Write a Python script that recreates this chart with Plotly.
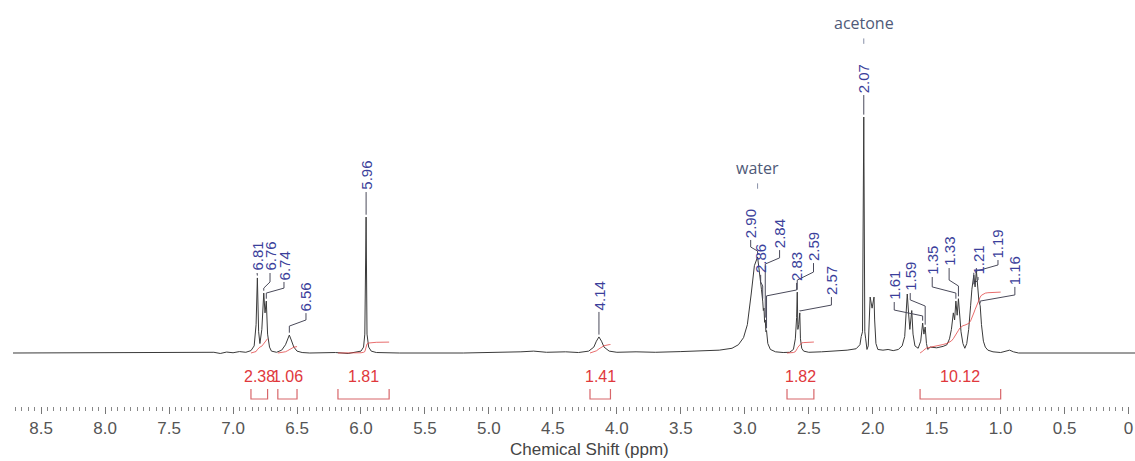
import numpy as np
import plotly.graph_objects as go

# ---------------------------------------------------------------- data
# 1H NMR trace: chemical shift (ppm) and intensity (acetone singlet = 100)
shift_ppm = [
    8.72, 7.30, 7.15, 7.10, 7.05, 7.00, 6.95, 6.90, 6.86, 6.835, 6.82, 6.81, 6.80, 6.79,
    6.775, 6.76, 6.75, 6.74, 6.73, 6.715, 6.70, 6.66, 6.62, 6.59, 6.575, 6.56, 6.545,
    6.525, 6.50, 6.46, 6.40, 6.20, 6.10, 6.03, 6.00, 5.98, 5.97, 5.96, 5.953, 5.94, 5.92,
    5.88, 5.70, 5.20, 4.90, 4.75, 4.65, 4.55, 4.40, 4.30, 4.22, 4.18, 4.16, 4.14, 4.12,
    4.10, 4.06, 4.00, 3.85, 3.70, 3.50, 3.35, 3.20, 3.10, 3.05, 3.01, 2.98, 2.95, 2.925,
    2.90, 2.88, 2.87, 2.86, 2.855, 2.85, 2.845, 2.84, 2.835, 2.83, 2.82, 2.80, 2.76, 2.70,
    2.65, 2.62, 2.605, 2.595, 2.59, 2.585, 2.578, 2.57, 2.565, 2.555, 2.54, 2.50, 2.40,
    2.30, 2.20, 2.13, 2.10, 2.09, 2.08, 2.07, 2.062, 2.055, 2.045, 2.035, 2.025, 2.02,
    2.005, 1.99, 1.985, 1.975, 1.96, 1.92, 1.88, 1.84, 1.80, 1.77, 1.75, 1.74, 1.73, 1.72,
    1.71, 1.695, 1.685, 1.67, 1.645, 1.625, 1.61, 1.60, 1.59, 1.58, 1.57, 1.55, 1.50,
    1.45, 1.42, 1.40, 1.385, 1.37, 1.36, 1.35, 1.34, 1.33, 1.32, 1.31, 1.295, 1.28, 1.265,
    1.25, 1.235, 1.225, 1.21, 1.20, 1.19, 1.18, 1.17, 1.16, 1.15, 1.135, 1.12, 1.10, 1.06,
    1.00, 0.96, 0.93, 0.90, 0.86, -0.06,
]
intensity = [
    0.0, 0.0, 0.3, -0.2, 0.4, 0.1, 0.6, 0.3, 1.0, 3.0, 12.0, 31.8, 9.0, 4.0,
    10.0, 25.4, 17.0, 22.0, 8.0, 2.5, 0.8, 0.3, 1.2, 3.5, 6.0, 7.6, 5.5,
    2.5, 0.8, 0.2, 0.0, 0.2, -0.2, 0.3, 0.8, 2.5, 8.0, 57.6, 8.0, 2.5, 0.8,
    0.2, 0.0, 0.0, 0.2, 0.5, 0.8, 0.3, 0.5, 0.2, 0.8, 2.5, 5.0, 6.8, 5.0,
    2.5, 0.8, 0.3, 0.5, 0.3, 0.6, 0.8, 1.2, 2.0, 3.5, 6.5, 12.0, 25.0, 37.0,
    40.7, 33.0, 27.0, 22.0, 18.0, 19.0, 13.0, 14.0, 9.0, 9.5, 4.0, 1.5, 0.5, 0.2,
    0.3, 1.5, 6.0, 15.0, 25.8, 10.0, 12.0, 17.0, 6.0, 2.0, 0.8, 0.3, 0.5,
    0.8, 1.2, 1.8, 3.5, 7.0, 9.0, 100.0, 9.0, 6.0, 1.5, 3.0, 14.0, 23.7,
    19.0, 23.7, 14.0, 4.0, 1.5, 1.2, 1.5, 1.0, 1.5, 3.0, 7.0, 15.0, 25.0, 17.0,
    10.0, 18.0, 8.0, 3.0, 2.0, 5.0, 12.7, 8.0, 11.0, 4.0, 1.5, 2.5, 2.2,
    2.8, 3.5, 6.0, 10.0, 17.0, 14.0, 22.0, 16.0, 23.0, 15.0, 9.0, 4.0, 2.0, 4.0,
    10.0, 20.0, 27.0, 33.0, 28.0, 35.0, 27.0, 22.0, 20.0, 12.0, 5.0, 2.5, 1.2, 0.5,
    0.2, 0.6, 1.2, 0.5, 0.0, 0.0,
]

# picked peaks (ppm)
peak_ppm = [6.81, 6.76, 6.74, 6.56, 5.96, 4.14, 2.90, 2.86, 2.84, 2.83,
            2.59, 2.57, 2.07, 1.61, 1.59, 1.35, 1.33, 1.21, 1.19, 1.16]

# integration regions (ppm limits) and integral values
int_from = [6.86, 6.65, 6.18, 4.21, 2.67, 1.63]
int_to = [6.73, 6.50, 5.78, 4.05, 2.46, 1.00]
int_value = [2.38, 1.06, 1.81, 1.41, 1.82, 10.12]

# solvent assignments
solvent_name = ["water", "acetone"]
solvent_ppm = [2.90, 2.07]

x_ticks = [8.5, 8.0, 7.5, 7.0, 6.5, 6.0, 5.5, 5.0, 4.5, 4.0, 3.5, 3.0, 2.5, 2.0, 1.5, 1.0, 0.5, 0.0]
x_tick_text = ["8.5", "8.0", "7.5", "7.0", "6.5", "6.0", "5.5", "5.0", "4.5", "4.0",
               "3.5", "3.0", "2.5", "2.0", "1.5", "1.0", "0.5", "0"]

# ---------------------------------------------------------------- layout of the peak labels
# text position (ppm), text foot height, upper and lower elbow of the leader (None = straight)
label_x = [6.812, 6.711, 6.602, 6.430, 5.96, 4.14, 2.954, 2.876, 2.728, 2.595,
           2.463, 2.323, 2.07, 1.832, 1.707, 1.535, 1.403, 1.177, 1.021, 0.889]
label_foot = [33.9, 33.9, 30.1, 16.9, 68.2, 17.4, 47.9, 33.1, 43.6, 29.7,
              38.1, 23.7, 109.3, 21.6, 25.4, 32.2, 36.0, 32.2, 39.4, 28.0]
elbow_hi = [None, 30.1, 27.5, 14.0, None, None, 44.9, 30.1, 40.3, 26.7,
            34.3, 20.3, None, 18.2, 22.5, 28.0, 30.9, 30.9, 37.3, 24.6]
elbow_lo = [None, 27.5, 25.4, 11.4, None, None, 43.2, 28.4, 37.7, 24.2,
            30.9, 17.8, None, 15.7, 19.9, 25.4, 28.4, 29.2, 34.7, 22.0]

BLUE = "#3b3f9b"
RED = "#e0383c"
GREY_TXT = "#4f5a78"
LINE = "#3a3a3a"
INT_SCALE = 2.55          # intensity units per integral unit
BRACKET_TOP, BRACKET_BOT, INT_LABEL_Y = -15.3, -19.5, -10.0

fig = go.Figure()

# spectrum
fig.add_trace(go.Scatter(x=shift_ppm, y=intensity, mode="lines",
                         line=dict(color=LINE, width=1), hoverinfo="skip"))

xs = np.array(shift_ppm)[::-1]
ys = np.array(intensity)[::-1]


def trace_height(p):
    return float(np.interp(p, xs, ys))


# integral curves: cumulative area of the trace over each region
for a, b, v in zip(int_from, int_to, int_value):
    inside = [(p, i) for p, i in zip(shift_ppm, intensity) if b < p < a]
    pts = [(a, trace_height(a))] + inside + [(b, trace_height(b))]
    px = np.array([p for p, _ in pts])
    py = np.array([i for _, i in pts])
    area = np.concatenate([[0.0], np.cumsum(np.abs(np.diff(px)) * (py[1:] + py[:-1]) / 2)])
    curve = v * INT_SCALE * area / area[-1]
    fig.add_trace(go.Scatter(x=px, y=curve, mode="lines",
                             line=dict(color="rgba(224,60,60,0.75)", width=1),
                             hoverinfo="skip"))

# integration brackets and values
bx, by = [], []
for a, b, v in zip(int_from, int_to, int_value):
    bx += [a, a, b, b, None]
    by += [BRACKET_TOP, BRACKET_BOT, BRACKET_BOT, BRACKET_TOP, None]
    fig.add_annotation(x=(a + b) / 2, y=INT_LABEL_Y, text=f"{v:.2f}", showarrow=False,
                       xanchor="center", yanchor="middle",
                       font=dict(family="Liberation Sans, Arial", size=16, color=RED))
fig.add_trace(go.Scatter(x=bx, y=by, mode="lines",
                         line=dict(color="#d8666a", width=1.2), hoverinfo="skip"))

# peak labels with leaders
lx, ly = [], []
for p, tx, foot, e1, e2 in zip(peak_ppm, label_x, label_foot, elbow_hi, elbow_lo):
    end = trace_height(p) + 1.0
    if e1 is None:
        lx += [tx, p, None]
        ly += [foot, end, None]
    else:
        lx += [tx, tx, p, p, None]
        ly += [foot, e1, e2, end, None]
    fig.add_annotation(x=tx, y=foot, text=f"{p:.2f}", textangle=-90, showarrow=False,
                       xanchor="center", yanchor="bottom",
                       font=dict(family="Liberation Sans, Arial", size=15, color=BLUE))
fig.add_trace(go.Scatter(x=lx, y=ly, mode="lines",
                         line=dict(color="#4a4a5a", width=1), hoverinfo="skip"))

# solvent tags
solvent_tag_y = [78.4, 139.8]
sx, sy = [], []
for name, p, ty in zip(solvent_name, solvent_ppm, solvent_tag_y):
    fig.add_annotation(x=p, y=ty, text=name, showarrow=False, xanchor="center",
                       yanchor="middle",
                       font=dict(family="Open Sans, sans-serif", size=16, color=GREY_TXT))
    sx += [p, p, None]
    sy += [ty - 6.5, ty - 8.8, None]
fig.add_trace(go.Scatter(x=sx, y=sy, mode="lines",
                         line=dict(color="#8890a8", width=1), hoverinfo="skip"))

fig.add_annotation(x=4.21, y=-0.108, xref="x", yref="paper", text="Chemical Shift (ppm)",
                   showarrow=False, xanchor="center", yanchor="middle",
                   font=dict(family="Liberation Sans, Arial", size=17, color="#444444"))

fig.update_layout(
    width=1135, height=461,
    margin=dict(l=13, r=0, t=0, b=55, autoexpand=False),
    paper_bgcolor="white", plot_bgcolor="white",
    showlegend=False,
    xaxis=dict(range=[8.72, -0.05], tickvals=x_ticks, ticktext=x_tick_text,
               ticklabeloverflow="allow", automargin=False,
               ticks="outside", ticklen=7, tickwidth=1, tickcolor="#777777",
               showgrid=False, zeroline=False, showline=False,
               tickfont=dict(family="Liberation Sans, Arial", size=17, color="#555555"),
               minor=dict(dtick=0.05, tick0=0, ticks="outside", ticklen=4,
                          tickcolor="#888888", showgrid=False)),
    yaxis=dict(range=[-22.46, 149.58], visible=False, showgrid=False, zeroline=False),
)

fig.write_html("out.html")
